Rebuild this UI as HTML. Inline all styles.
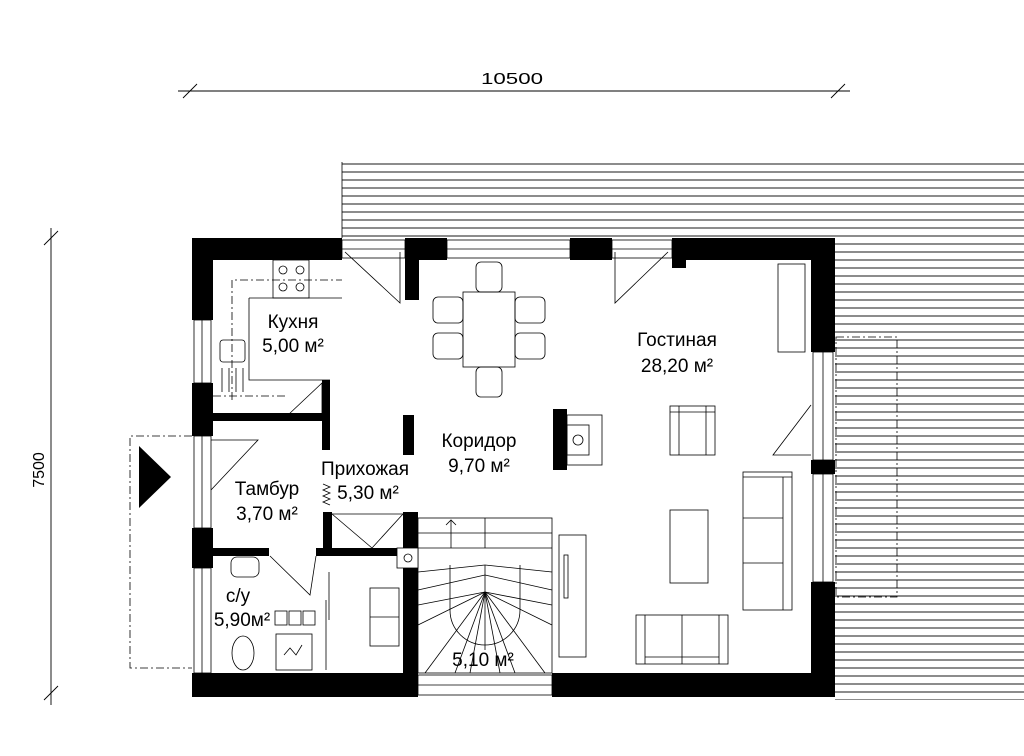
<!DOCTYPE html>
<html><head><meta charset="utf-8"><style>
body{margin:0;background:#fff}
svg{display:block}
text{font-family:"Liberation Sans",sans-serif;fill:#000}
</style></head><body>
<svg width="1024" height="756" viewBox="0 0 1024 756" xmlns="http://www.w3.org/2000/svg">
<defs>
<pattern id="deck" width="10" height="8" patternUnits="userSpaceOnUse"><line x1="0" y1="4" x2="10" y2="4" stroke="#000" stroke-width="0.9"/></pattern>
</defs>
<rect x="342" y="162" width="682" height="76" fill="url(#deck)"/>
<rect x="835" y="238" width="189" height="462" fill="url(#deck)"/>
<line x1="342" y1="162" x2="342" y2="238" stroke="#000" stroke-width="0.8"/>
<rect x="836" y="337" width="61" height="260" fill="none" stroke="#000" stroke-dasharray="8,3,2,3" stroke-width="0.8"/>
<g stroke="#000" stroke-width="0.9">
<line x1="178" y1="91" x2="850" y2="91"/>
<line x1="183" y1="98" x2="197" y2="84"/><line x1="831" y1="98" x2="845" y2="84"/>
<line x1="51" y1="228" x2="51" y2="705"/>
<line x1="44" y1="245" x2="58" y2="231"/><line x1="44" y1="700" x2="58" y2="686"/>
</g>
<text x="512" y="84" font-size="16" text-anchor="middle" textLength="62" lengthAdjust="spacingAndGlyphs">10500</text>
<text transform="translate(44 470) rotate(-90)" font-size="16" text-anchor="middle">7500</text>
<rect x="192" y="238" width="643" height="459" fill="#fff"/>
<g fill="#000">
<rect x="192" y="238" width="150" height="22"/>
<rect x="405" y="238" width="42" height="22"/><rect x="405" y="238" width="14" height="62"/>
<rect x="570" y="238" width="42" height="22"/>
<rect x="672" y="238" width="163" height="22"/><rect x="672" y="238" width="14" height="30"/>
<rect x="811" y="238" width="24" height="114"/>
<rect x="811" y="460" width="24" height="14"/>
<rect x="811" y="582" width="24" height="115"/>
<rect x="192" y="673" width="226" height="24"/>
<rect x="552" y="673" width="283" height="24"/>
<rect x="192" y="238" width="21" height="82"/>
<rect x="192" y="383" width="21" height="53"/>
<rect x="192" y="528" width="21" height="40"/>
<rect x="213" y="413" width="117" height="8"/>
<rect x="322" y="380" width="8" height="70"/>
<rect x="213" y="548" width="56" height="8"/>
<rect x="316" y="548" width="102" height="8"/>
<rect x="323" y="512" width="9" height="40"/>
<rect x="403" y="512" width="15" height="40"/>
<rect x="403" y="568" width="15" height="110"/>
<rect x="403" y="415" width="11" height="40"/>
<rect x="553" y="409" width="14" height="61"/>
</g>
<g fill="none" stroke="#000" stroke-width="0.8">
<rect x="342" y="240" width="63" height="18"/><line x1="342" y1="249" x2="405" y2="249"/>
<rect x="447" y="240" width="123" height="18"/><line x1="447" y1="249" x2="570" y2="249"/>
<rect x="612" y="240" width="60" height="18"/><line x1="612" y1="249" x2="672" y2="249"/>
<rect x="813" y="352" width="20" height="108"/><line x1="823" y1="352" x2="823" y2="460"/>
<rect x="813" y="474" width="20" height="108"/><line x1="823" y1="474" x2="823" y2="582"/>
<rect x="194" y="320" width="17" height="63"/><line x1="202" y1="320" x2="202" y2="383"/>
<rect x="194" y="436" width="17" height="92"/><line x1="202" y1="436" x2="202" y2="528"/>
<rect x="194" y="568" width="17" height="105"/><line x1="202" y1="568" x2="202" y2="673"/>
<rect x="418" y="675" width="134" height="20"/><line x1="418" y1="685" x2="552" y2="685"/>
<polyline points="345,252 400,303 400,252"/>
<polyline points="615,252 615,303 668,252"/>
<polyline points="811,405 773,455 811,455"/>
<polyline points="211,440 258,440 211,490"/>
<polyline points="270,556 310,595 316,556"/>
<polyline points="332,514 372,548 403,514"/><line x1="332" y1="514" x2="403" y2="514"/>
<polyline points="288,415 322,383 322,415"/>
<polyline points="192,436 130,436 130,668 192,668" stroke-dasharray="8,3,2,3"/>
<polyline points="249,298 249,380 330,380"/>
<line x1="249" y1="298" x2="342" y2="298"/>
<rect x="273" y="260" width="36" height="38"/>
<circle cx="283" cy="270" r="4"/><circle cx="300" cy="270" r="4"/><circle cx="283" cy="287" r="4"/><circle cx="300" cy="287" r="4"/>
<polyline points="232,400 232,280 342,280" stroke-dasharray="8,3,2,3"/>
<line x1="213" y1="396" x2="288" y2="396" stroke-dasharray="8,3,2,3"/>
<rect x="220" y="340" width="25" height="22" rx="3"/>
<line x1="222" y1="368" x2="222" y2="392"/><line x1="229" y1="368" x2="229" y2="392"/><line x1="236" y1="368" x2="236" y2="392"/><line x1="243" y1="368" x2="243" y2="392"/>
<rect x="463" y="292" width="52" height="75"/>
<rect x="476" y="262" width="26" height="30" rx="5"/>
<rect x="476" y="367" width="26" height="30" rx="5"/>
<rect x="433" y="297" width="30" height="26" rx="5"/><rect x="433" y="333" width="30" height="26" rx="5"/>
<rect x="515" y="297" width="30" height="26" rx="5"/><rect x="515" y="333" width="30" height="26" rx="5"/>
<rect x="567" y="415" width="35" height="50"/><rect x="567" y="425" width="22" height="30"/>
<circle cx="578" cy="440" r="5"/>
<rect x="778" y="264" width="27" height="88"/>
<rect x="670" y="406" width="45" height="49"/><line x1="679" y1="406" x2="679" y2="455"/><line x1="706" y1="406" x2="706" y2="455"/><line x1="670" y1="412" x2="715" y2="412"/>
<rect x="743" y="472" width="49" height="138"/><line x1="783" y1="477" x2="783" y2="610"/><line x1="743" y1="477" x2="792" y2="477"/><line x1="743" y1="518" x2="783" y2="518"/><line x1="743" y1="563" x2="783" y2="563"/>
<rect x="670" y="510" width="38" height="73"/>
<rect x="636" y="615" width="92" height="49"/><line x1="645" y1="615" x2="645" y2="664"/><line x1="719" y1="615" x2="719" y2="664"/><line x1="645" y1="657" x2="719" y2="657"/><line x1="682" y1="615" x2="682" y2="664"/>
<rect x="559" y="535" width="27" height="122"/><rect x="564" y="555" width="4" height="43"/>
<rect x="418" y="518" width="134" height="155"/>
<line x1="418" y1="533" x2="552" y2="533"/>
<line x1="418" y1="548" x2="552" y2="548"/>
<line x1="485" y1="518" x2="485" y2="548"/>
<line x1="451" y1="548" x2="451" y2="520"/><polyline points="446,525 451,520 456,525"/>
<path d="M450 565 L450 610 A35 35 0 0 0 520 610 L520 565"/>
<g>
<line x1="485" y1="565" x2="418" y2="572"/><line x1="485" y1="565" x2="552" y2="572"/>
<line x1="485" y1="575" x2="418" y2="590"/><line x1="485" y1="575" x2="552" y2="590"/>
<line x1="485" y1="592" x2="418" y2="605"/><line x1="485" y1="592" x2="552" y2="605"/>
<line x1="485" y1="592" x2="418" y2="625"/><line x1="485" y1="592" x2="552" y2="625"/>
<line x1="485" y1="592" x2="425" y2="673"/><line x1="485" y1="592" x2="545" y2="673"/>
<line x1="485" y1="592" x2="455" y2="673"/><line x1="485" y1="592" x2="515" y2="673"/>
<line x1="485" y1="592" x2="470" y2="673"/><line x1="485" y1="592" x2="500" y2="673"/>
<line x1="485" y1="592" x2="485" y2="650"/>
<line x1="485" y1="565" x2="485" y2="592"/>
</g>
<rect x="397" y="548" width="21" height="20" fill="#fff"/><circle cx="408" cy="558" r="4"/>
<rect x="231" y="557" width="28" height="20" rx="6"/>
<ellipse cx="243" cy="653" rx="11" ry="17"/>
<rect x="275" y="611" width="12" height="14"/><rect x="289" y="611" width="12" height="14"/><rect x="303" y="611" width="12" height="14"/>
<rect x="276" y="634" width="36" height="36"/>
<polyline points="284,655 290,648 296,655 302,645"/>
<line x1="329" y1="572" x2="329" y2="620"/>
<line x1="326" y1="600" x2="326" y2="670"/>
<rect x="370" y="588" width="29" height="58"/><line x1="370" y1="617" x2="399" y2="617"/>
<polyline points="323,484 330,487 323,490 330,493 323,496 330,499 323,502 330,505"/>
</g>
<polygon points="139,446 171,477 139,508" fill="#000"/>
<g font-size="19">
<text x="293" y="328" text-anchor="middle">Кухня</text>
<text x="293" y="352" text-anchor="middle">5,00 м²</text>
<text x="677" y="346" text-anchor="middle">Гостиная</text>
<text x="677" y="372" text-anchor="middle">28,20 м²</text>
<text x="479" y="447" text-anchor="middle">Коридор</text>
<text x="479" y="472" text-anchor="middle">9,70 м²</text>
<text x="365" y="475" text-anchor="middle">Прихожая</text>
<text x="368" y="499" text-anchor="middle">5,30 м²</text>
<text x="267" y="495" text-anchor="middle">Тамбур</text>
<text x="267" y="520" text-anchor="middle">3,70 м²</text>
<text x="238" y="602" text-anchor="middle">с/у</text>
<text x="242" y="626" text-anchor="middle">5,90м²</text>
<text x="483" y="666" text-anchor="middle">5,10 м²</text>
</g>
</svg>
</body></html>
